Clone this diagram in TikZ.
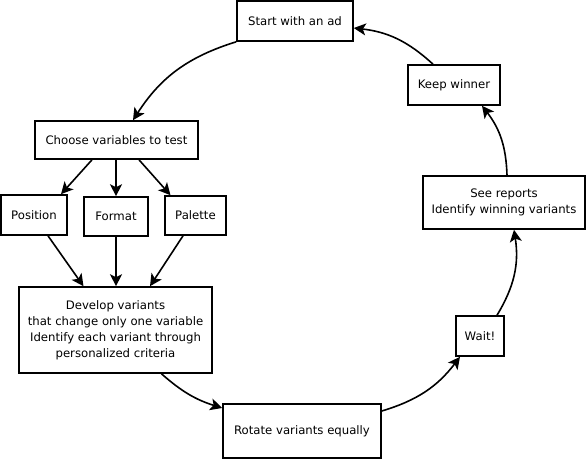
\documentclass[tikz,border=0pt]{standalone}
\usepackage{fontspec}
\setmainfont{DejaVu Sans}
\usetikzlibrary{arrows.meta}
\begin{document}
\begin{tikzpicture}[x=1pt,y=-1pt,
 box/.style={draw, line width=1.6pt, inner sep=0pt, align=center, font=\fontsize{11.7}{16}\selectfont},
 conn/.style={line width=1.6pt, -{Stealth[length=12pt,width=12pt,inset=3pt]}}]
\useasboundingbox (0,0) rectangle (587,459);
\node[box, minimum width=116pt, minimum height=40pt] (start) at (295,21) {Start with an ad};
\node[box, minimum width=92pt, minimum height=40pt] (keep) at (454,85) {Keep winner};
\node[box, minimum width=163pt, minimum height=38pt] (choose) at (116.5,140) {Choose variables to test};
\node[box, minimum width=66pt, minimum height=40pt] (position) at (34,215) {Position};
\node[box, minimum width=64pt, minimum height=39pt] (format) at (116,216.5) {Format};
\node[box, minimum width=61pt, minimum height=39pt] (palette) at (195.5,215.5) {Palette};
\node[box, minimum width=162pt, minimum height=53pt] (see) at (504,202.5) {See reports\\Identify winning variants};
\node[box, minimum width=193pt, minimum height=86pt] (develop) at (115.5,330) {Develop variants\\that change only one variable\\Identify each variant through\\personalized criteria};
\node[box, minimum width=48pt, minimum height=40pt] (wait) at (480,336) {Wait!};
\node[box, minimum width=158pt, minimum height=54pt] (rotate) at (302,431) {Rotate variants equally};

\draw[conn] (start.south west) to[bend right=20] ([xshift=16.5pt]choose.north);
\draw[conn] ([xshift=-21pt]keep.north) to[bend right=18] ([yshift=-7pt]start.east);
\draw[conn] ([xshift=3pt]see.north) to[bend right=18] ([xshift=28pt]keep.south);
\draw[conn] ([xshift=17pt]wait.north) to[bend right=20] ([xshift=10pt]see.south);
\draw[conn] ([yshift=20pt]rotate.east) to[bend right=18] ([xshift=-20pt]wait.south);
\draw[conn] ([xshift=46pt]develop.south) to[bend right=12] ([yshift=23pt]rotate.west);

\draw[conn] ([xshift=-24.5pt]choose.south) -- ([xshift=27pt]position.north);
\draw[conn] (format.north |- choose.south) -- (format.north);
\draw[conn] ([xshift=22.5pt]choose.south) -- ([xshift=-25pt]palette.north);

\draw[conn] ([xshift=14pt]position.south) -- ([xshift=-32pt]develop.north);
\draw[conn] (format.south) -- (format.south |- develop.north);
\draw[conn] ([xshift=-12.5pt]palette.south) -- ([xshift=34.5pt]develop.north);
\end{tikzpicture}
\end{document}
